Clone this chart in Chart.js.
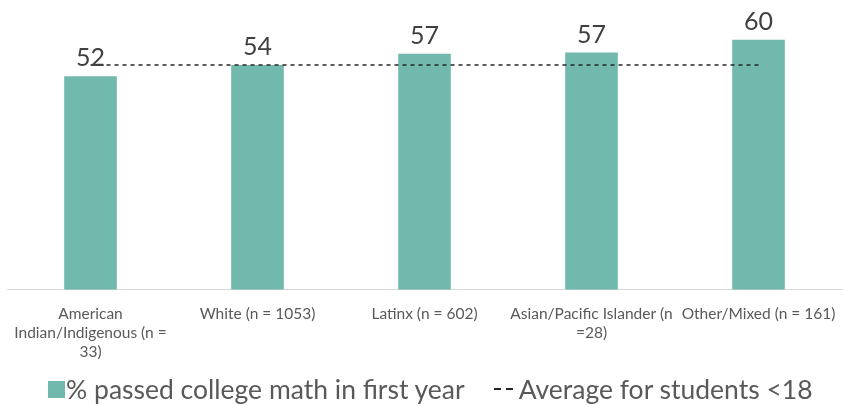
<!DOCTYPE html>
<html>
<head>
<meta charset="utf-8">
<script src="https://cdn.jsdelivr.net/npm/chart.js@4"></script>
<style>
  html, body { margin: 0; padding: 0; background: #ffffff; }
  #wrap { width: 844px; height: 405px; position: relative; }
  #legend {
    position: absolute; left: 0; top: 366px;
    width: 844px; height: 39px; box-sizing: border-box;
    padding: 7px 0 0 48px;
    display: flex; align-items: center;
    font-family: Lato, "Open Sans", sans-serif; font-size: 26.5px; color: #595959;
    white-space: nowrap;
  }
  .item { display: flex; align-items: center; margin-right: 29px; }
  .swatch { display: inline-block; width: 17px; height: 17px; margin-right: 1px; }
  .dash { display: inline-block; width: 22px; height: 2px; margin-right: 3px; }
</style>
</head>
<body>
<div id="wrap"><canvas id="myBarChart"></canvas><div id="legend"></div></div>
<script>
var categories = [
  ["American", "Indian/Indigenous (n =", "33)"],
  "White (n = 1053)",
  "Latinx (n = 602)",
  ["Asian/Pacific Islander (n", "=28)"],
  "Other/Mixed (n = 161)",
];
var passedValues = [51.6, 54.3, 57.0, 57.3, 60.4];
var averageValues = [54.3, 54.3, 54.3, 54.3, 54.3];

var textFont = "Lato, 'Open Sans', sans-serif";

// draws the rounded value above each bar
var valueLabels = {
  id: "valueLabels",
  afterDatasetsDraw: function (chart) {
    var ctx = chart.ctx;
    var meta = chart.getDatasetMeta(1);
    ctx.save();
    ctx.font = "25px " + textFont;
    ctx.fillStyle = "#404040";
    ctx.textAlign = "center";
    ctx.textBaseline = "alphabetic";
    meta.data.forEach(function (bar, i) {
      ctx.fillText(Math.round(passedValues[i]), bar.x, bar.y - 10);
    });
    ctx.restore();
  },
};

// html legend, bar series first then the dashed average
var htmlLegend = {
  id: "htmlLegend",
  afterUpdate: function (chart) {
    var box = document.getElementById("legend");
    box.innerHTML = "";
    [1, 0].forEach(function (i) {
      var ds = chart.data.datasets[i];
      var item = document.createElement("span");
      item.className = "item";
      var mark = document.createElement("span");
      if (ds.type === "line") {
        mark.className = "dash";
        mark.style.background =
          "repeating-linear-gradient(to right, " + ds.borderColor + " 0 7px, transparent 7px 12px)";
      } else {
        mark.className = "swatch";
        mark.style.background = ds.backgroundColor;
      }
      item.appendChild(mark);
      item.appendChild(document.createTextNode(ds.label));
      box.appendChild(item);
    });
  },
};

var ctx = document.getElementById("myBarChart").getContext("2d");

var myBarChart = new Chart(ctx, {
  type: "bar",
  data: {
    labels: categories,
    datasets: [
      {
        type: "line",
        label: "Average for students <18",
        data: averageValues,
        borderColor: "#262626",
        borderWidth: 1.5,
        borderDash: [4, 4],
        pointRadius: 0,
        fill: false,
        order: 0,
      },
      {
        label: "% passed college math in first year",
        data: passedValues,
        backgroundColor: "#71B8AD",
        categoryPercentage: 1,
        barPercentage: 0.315,
        order: 1,
      },
    ],
  },
  options: {
    responsive: true,
    maintainAspectRatio: false,
    animation: false,
    layout: {
      padding: { left: 7, right: 2, top: 0, bottom: 28 },
    },
    scales: {
      x: {
        grid: { display: false, drawTicks: false },
        border: { display: true, color: "#D9D9D9", width: 1 },
        ticks: {
          color: "#595959",
          font: { family: textFont, size: 15.5, lineHeight: 1.23 },
          maxRotation: 0,
          autoSkip: false,
          padding: 15,
        },
        // let the last label run to the canvas edge like the original
        afterFit: function (scale) {
          scale.paddingLeft = 0;
          scale.paddingRight = 0;
        },
      },
      y: {
        display: false,
        min: 0,
        max: 70,
      },
    },
    plugins: {
      legend: { display: false },
      tooltip: { enabled: false },
    },
  },
  plugins: [valueLabels, htmlLegend],
});
</script>
</body>
</html>
